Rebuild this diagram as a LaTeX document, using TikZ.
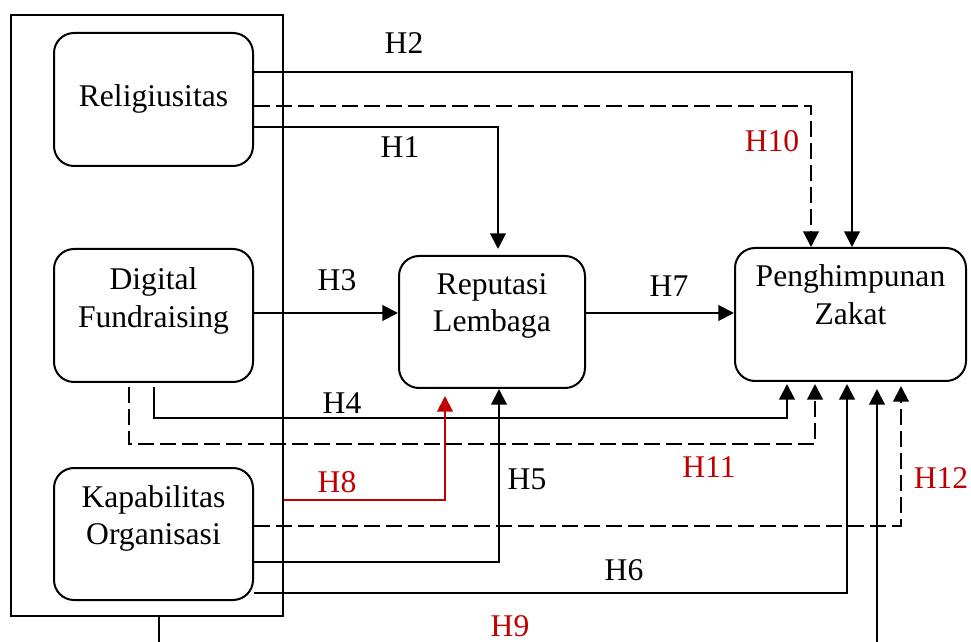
\documentclass[tikz,border=0pt]{standalone}
\usepackage{fontspec}
\setmainfont{Liberation Serif}
\usetikzlibrary{arrows.meta}
\definecolor{hypred}{RGB}{192,0,0}
\begin{document}
\begin{tikzpicture}[x=0.5pt, y=-0.5pt, line width=1pt,
  every node/.style={font=\fontsize{15.8}{19}\selectfont},
  varbox/.style={draw, rounded corners=10pt, inner sep=0pt},
  txt/.style={anchor=base, inner sep=0pt},
  conn/.style={-{Triangle[length=7.8pt,width=7.8pt]}},
  moddash/.style={dash pattern=on 8pt off 3pt}
]
\useasboundingbox (0,0) rectangle (971,642);
\clip (0,0) rectangle (971,642);

% frame around the three exogenous variables
\node[draw, inner sep=0pt, minimum width=136pt, minimum height=300.5pt] (outer) at (147,315.5) {};

% variable boxes
\node[varbox, minimum width=99.5pt, minimum height=66.5pt] (rel) at (153.5,99.5) {};
\node[varbox, minimum width=99.5pt, minimum height=66.5pt] (dig) at (153.5,315.5) {};
\node[varbox, minimum width=99.5pt, minimum height=66pt]   (kap) at (153.5,534) {};
\node[varbox, minimum width=93pt,   minimum height=66pt]   (rep) at (492,322) {};
\node[varbox, minimum width=115.5pt,minimum height=66.5pt] (pen) at (850.5,314.5) {};

% box captions
\node[txt] (rel-a) at (153.5,107) {Religiusitas};
\node[txt] (dig-a) at (153.5,290) {Digital};
\node[txt] (dig-b) at (153.5,328) {Fundraising};
\node[txt] (kap-a) at (153.5,507) {Kapabilitas};
\node[txt] (kap-b) at (153.5,544) {Organisasi};
\node[txt] (rep-a) at (492,295) {Reputasi};
\node[txt] (rep-b) at (492,332) {Lembaga};
\node[txt] (pen-a) at (850.5,287) {Penghimpunan};
\node[txt] (pen-b) at (850.5,325) {Zakat};

% direct paths
\draw[conn] (rel.east |- 0,72) -| (852,0 |- pen.north);
\draw[conn, shorten >=3pt] (rel.east |- 0,127) -| (498,0 |- rep.north);
\draw[conn] (dig.east |- 0,313) -- (rep.west |- 0,313);
\draw[conn] (rep.east |- 0,313) -- (pen.west |- 0,313);
\draw[conn, shorten <=2pt, shorten >=1pt] (154,0 |- dig.south) |- (787,418) -- (787,0 |- pen.south);
\draw[conn] (kap.east |- 0,562) -| (499,0 |- rep.south);
\draw[conn, shorten >=1pt] (kap.east |- 0,593) -| (847,0 |- pen.south);
\draw[conn, hypred, shorten >=3.5pt] (outer.east |- 0,500) -| (445,0 |- rep.south);
\draw[conn, shorten >=3.5pt] (outer.south -| 159,0) -- (159,680) -| (877,0 |- pen.south);

% mediated paths (dashed)
\draw[conn, moddash] (rel.east |- 0,106) -| (811,0 |- pen.north);
\draw[conn, moddash, shorten <=2pt, shorten >=1pt] (129,0 |- dig.south) |- (815,444) -- (815,0 |- pen.south);
\draw[conn, moddash, shorten >=2pt] (kap.east |- 0,526) -| (901,0 |- pen.south);

% hypothesis labels
\node[txt] (h1)  at (400,158) {H1};
\node[txt] (h2)  at (404,54)  {H2};
\node[txt] (h3)  at (337,291) {H3};
\node[txt] (h4)  at (342,414) {H4};
\node[txt] (h5)  at (527,489) {H5};
\node[txt] (h6)  at (624,580) {H6};
\node[txt] (h7)  at (669,297) {H7};
\node[txt, text=hypred] (h8)  at (337,492) {H8};
\node[txt, text=hypred] (h9)  at (510,636) {H9};
\node[txt, text=hypred] (h10) at (772,152) {H10};
\node[txt, text=hypred] (h11) at (709,477) {H11};
\node[txt, text=hypred] (h12) at (941,488) {H12};
\end{tikzpicture}
\end{document}
